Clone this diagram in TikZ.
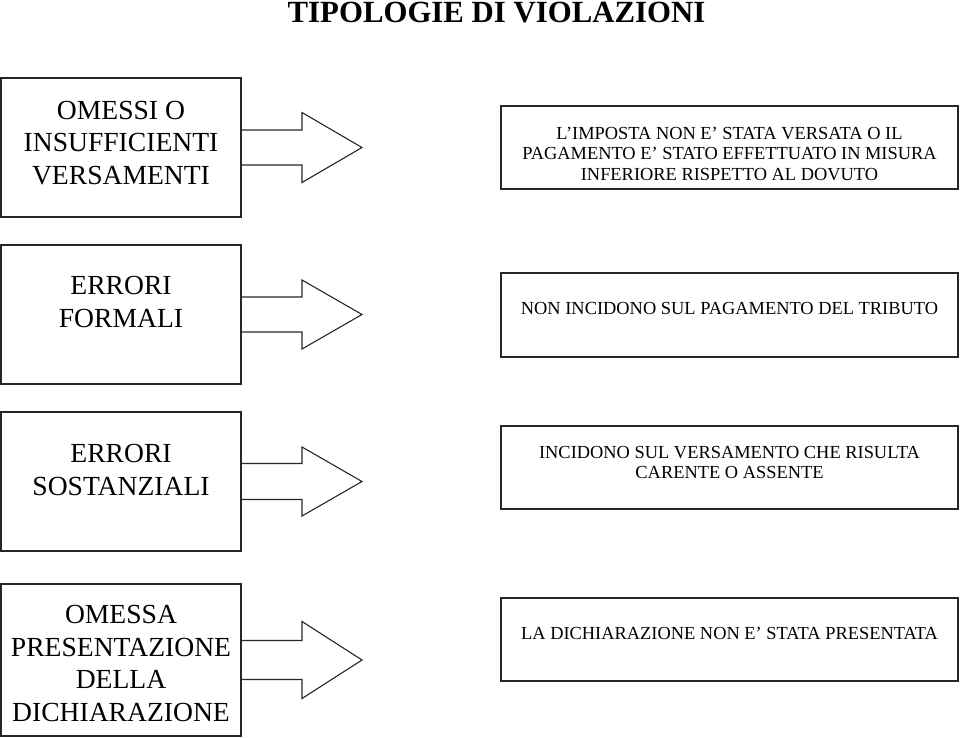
\documentclass[tikz,border=0pt]{standalone}
\usepackage{fontspec}
\setmainfont{Liberation Serif}
\usetikzlibrary{calc}
\tikzset{
  lbox/.style={draw=black!85, line width=1.1pt, minimum width=240pt, inner sep=0pt, outer sep=0pt},
  rbox/.style={draw=black!85, line width=1.1pt, minimum width=457pt, minimum height=83pt, inner sep=0pt, outer sep=0pt},
  ltext/.style={align=center, font=\fontsize{27.6}{32.5}\selectfont, inner sep=0pt},
  rtext/.style={align=center, font=\fontsize{18.4}{20.8}\selectfont, inner sep=0pt},
  titletext/.style={font=\fontsize{30.8}{36}\selectfont\bfseries, inner sep=0pt},
  fatarrowline/.style={draw=black!85, line width=1.1pt, line join=miter},
}
\newcommand\fatarrow[3]{\draw[fatarrowline] ($(#1.east)+(0,-#2)$) -- ($(#1.east)+(61,-#2)$) -- ($(#1.east)+(61,-#3)$) -- ($(#1.east)+(121,0)$) -- ($(#1.east)+(61,#3)$) -- ($(#1.east)+(61,#2)$) -- ($(#1.east)+(0,#2)$);}
\begin{document}
\begin{tikzpicture}[x=1pt,y=-1pt]
\useasboundingbox (0,0) rectangle (960,738);
\node[titletext] (title) at (496.5,13) {TIPOLOGIE DI VIOLAZIONI};

% left boxes
\node[lbox, minimum height=139pt] (l1) at (121,147.5) {};
\node[ltext] (lt1) at (121,143) {OMESSI O\\INSUFFICIENTI\\VERSAMENTI};
\node[lbox, minimum height=139pt] (l2) at (121,314.5) {};
\node[ltext] (lt2) at (121,302) {ERRORI\\FORMALI};
\node[lbox, minimum height=139pt] (l3) at (121,481.5) {};
\node[ltext] (lt3) at (121,470) {ERRORI\\SOSTANZIALI};
\node[lbox, minimum height=152pt] (l4) at (121,660) {};
\node[ltext] (lt4) at (121,663.5) {OMESSA\\PRESENTAZIONE\\DELLA\\DICHIARAZIONE};

% arrows
\fatarrow{l1}{17.5}{35}
\fatarrow{l2}{17.5}{34.5}
\fatarrow{l3}{18}{34.5}
\fatarrow{l4}{19.5}{38.5}

% right boxes
\node[rbox] (r1) at (729.5,147.5) {};
\node[rtext] (rt1) at (729.5,154) {L’IMPOSTA NON E’ STATA VERSATA O IL\\PAGAMENTO E’ STATO EFFETTUATO IN MISURA\\INFERIORE RISPETTO AL DOVUTO};
\node[rbox, minimum height=84pt] (r2) at (729.5,315) {};
\node[rtext] (rt2) at (729.5,308) {NON INCIDONO SUL PAGAMENTO DEL TRIBUTO};
\node[rbox] (r3) at (729.5,467.5) {};
\node[rtext] (rt3) at (729.5,462.5) {INCIDONO SUL VERSAMENTO CHE RISULTA\\CARENTE O ASSENTE};
\node[rbox] (r4) at (729.5,639.5) {};
\node[rtext] (rt4) at (729.5,633) {LA DICHIARAZIONE NON E’ STATA PRESENTATA};
\end{tikzpicture}
\end{document}
